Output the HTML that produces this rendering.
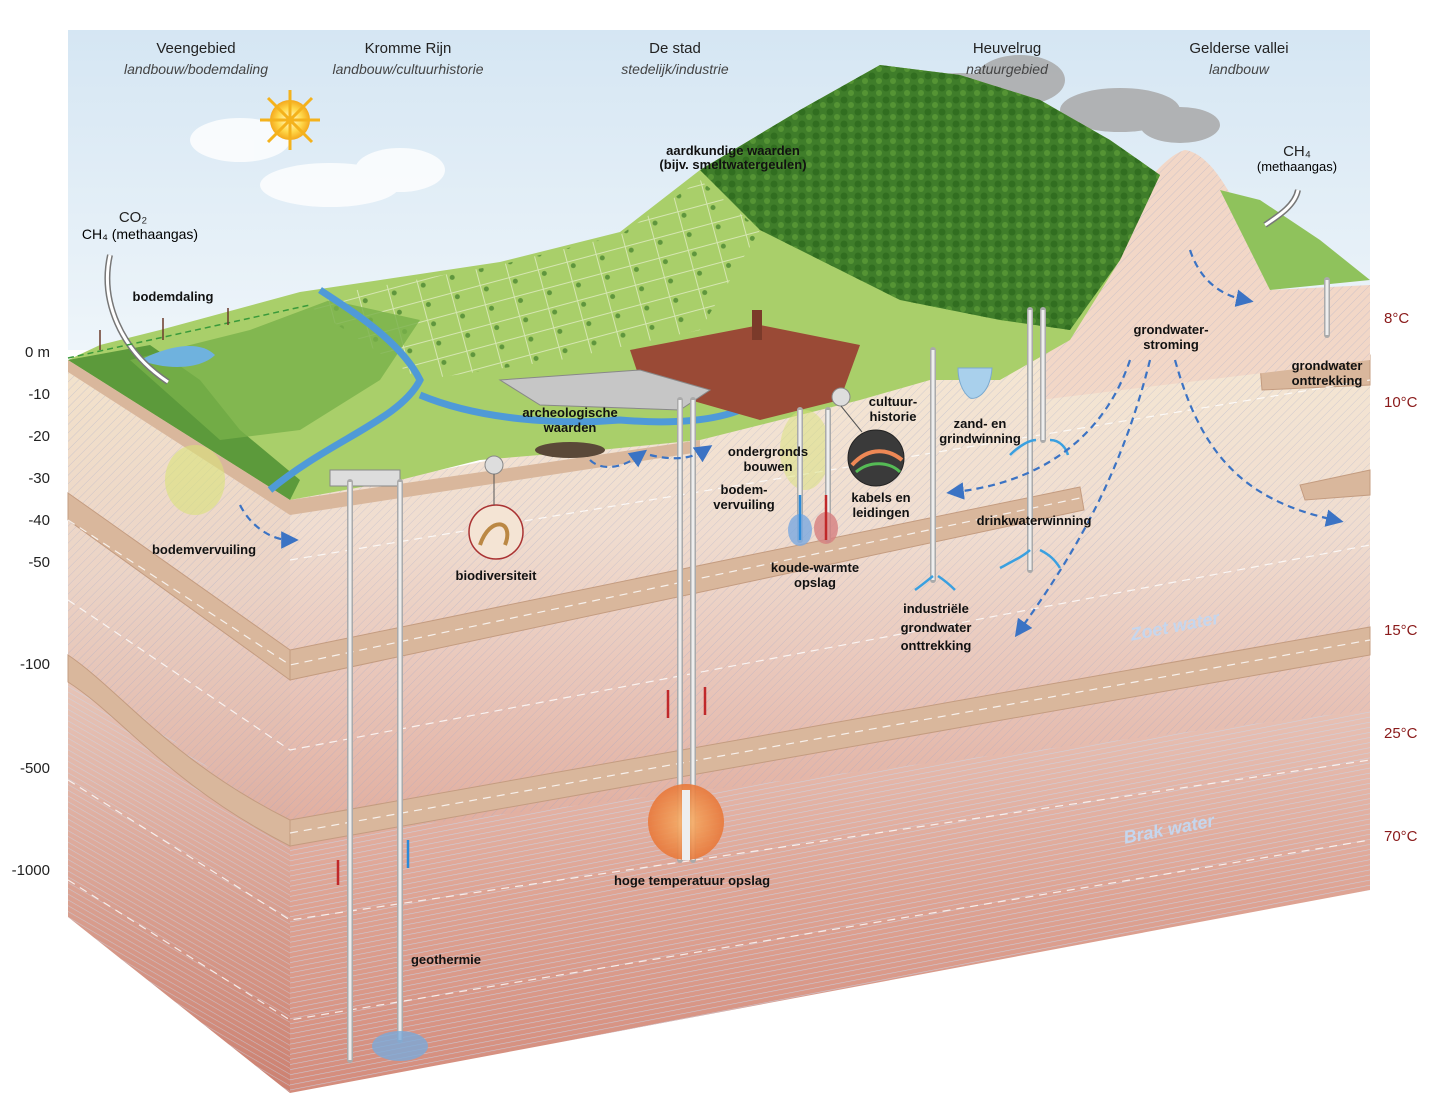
<!DOCTYPE html>
<html><head><meta charset="utf-8"><style>
body{margin:0;background:#fff}
svg{display:block}
text{font-family:"Liberation Sans",sans-serif}
.t{font-size:15px;fill:#222;text-anchor:middle}
.i{font-size:14px;font-style:italic;fill:#444;text-anchor:middle}
.b{font-size:13px;font-weight:bold;fill:#111;text-anchor:middle}
.d{font-size:15px;fill:#222;text-anchor:end}
.c{font-size:15px;fill:#8a1a1a}
</style></head><body>
<svg width="1450" height="1113" viewBox="0 0 1450 1113">
<defs>
<linearGradient id="sky" x1="0" y1="0" x2="0" y2="1"><stop offset="0" stop-color="#d5e6f3"/><stop offset="1" stop-color="#eef5fa"/></linearGradient>
<linearGradient id="earth" x1="0" y1="0" x2="0" y2="1">
<stop offset="0" stop-color="#f6ead4"/><stop offset="0.3" stop-color="#f0ddd0"/><stop offset="0.5" stop-color="#e8c4b8"/><stop offset="0.75" stop-color="#dea494"/><stop offset="1" stop-color="#d48c7c"/></linearGradient>
<linearGradient id="earthL" x1="0" y1="0" x2="0" y2="1">
<stop offset="0" stop-color="#f3e3cc"/><stop offset="0.3" stop-color="#ebd3c6"/><stop offset="0.55" stop-color="#e2b8ab"/><stop offset="0.8" stop-color="#d69888"/><stop offset="1" stop-color="#cc8070"/></linearGradient>
<pattern id="h" width="6" height="6" patternUnits="userSpaceOnUse" patternTransform="rotate(45)"><line x1="0" y1="0" x2="0" y2="6" stroke="#9aa4c8" stroke-width="0.8" opacity="0.5"/></pattern>
<pattern id="hz" width="8" height="5" patternUnits="userSpaceOnUse" patternTransform="rotate(-11)"><line x1="0" y1="0" x2="8" y2="0" stroke="#c8d8ec" stroke-width="1.2" opacity="0.75"/></pattern>
<pattern id="hzl" width="8" height="5" patternUnits="userSpaceOnUse" patternTransform="rotate(30)"><line x1="0" y1="0" x2="8" y2="0" stroke="#c8d8ec" stroke-width="1.2" opacity="0.6"/></pattern>
<pattern id="trees" width="14" height="12" patternUnits="userSpaceOnUse"><circle cx="4" cy="4" r="3.5" fill="#2e6a1e"/><circle cx="11" cy="9" r="3" fill="#5a9a36"/></pattern>
<pattern id="fields" width="30" height="20" patternUnits="userSpaceOnUse" patternTransform="rotate(-15)"><rect width="30" height="20" fill="none" stroke="#e8f0d0" stroke-width="1"/><circle cx="5" cy="5" r="2.5" fill="#3f7d2a"/></pattern>
<radialGradient id="ball"><stop offset="0" stop-color="#f7b26a"/><stop offset="1" stop-color="#e8783a"/></radialGradient>
<radialGradient id="sun"><stop offset="0" stop-color="#fffbe0"/><stop offset="0.6" stop-color="#ffd84a"/><stop offset="1" stop-color="#f4a81c"/></radialGradient>
<marker id="ab" markerWidth="8" markerHeight="8" refX="4" refY="4" orient="auto"><path d="M0,0 L8,4 L0,8z" fill="#3b73c4"/></marker>
</defs>
<rect x="68" y="30" width="1302" height="320" fill="url(#sky)"/>
<g fill="#fff" opacity="0.8">
<ellipse cx="240" cy="140" rx="50" ry="22"/><ellipse cx="330" cy="185" rx="70" ry="22"/><ellipse cx="400" cy="170" rx="45" ry="22"/>
</g>
<g fill="#a9a9a9" opacity="0.85"><ellipse cx="960" cy="95" rx="55" ry="22"/><ellipse cx="1020" cy="80" rx="45" ry="25"/><ellipse cx="1120" cy="110" rx="60" ry="22"/><ellipse cx="1180" cy="125" rx="40" ry="18"/></g>
<circle cx="290" cy="120" r="20" fill="url(#sun)"/>
<g stroke="#f4b21c" stroke-width="3"><line x1="290" y1="90" x2="290" y2="150"/><line x1="260" y1="120" x2="320" y2="120"/><line x1="268" y1="98" x2="312" y2="142"/><line x1="312" y1="98" x2="268" y2="142"/></g>

<!-- left face -->
<polygon points="68,360 290,500 290,1093 68,917" fill="url(#earthL)"/>
<polygon points="68,360 290,500 290,840 68,680" fill="url(#h)"/>
<polygon points="68,660 290,830 290,1093 68,917" fill="url(#hzl)"/>
<!-- front face -->
<polygon points="290,500 1370,285 1370,890 290,1093" fill="url(#earth)"/>
<polygon points="290,500 1370,285 1370,710 290,840" fill="url(#h)"/>
<polygon points="290,840 1370,710 1370,890 290,1093" fill="url(#hz)"/>
<!-- clay bands -->
<g fill="#d9b79c" stroke="#c49c80" stroke-width="1">
<polygon points="68,493 290,650 290,680 68,520"/>
<polygon points="290,650 1080,487 1084,510 290,680"/>
<path d="M68,655 C120,690 170,760 290,820 L290,846 C170,785 120,715 68,682 Z"/>
<polygon points="290,820 1370,627 1370,655 290,846"/>
<polygon points="1260,365 1370,355 1370,385 1262,390"/>
<polygon points="1300,485 1370,470 1370,495 1305,500"/>
</g>
<g stroke="#fff" stroke-dasharray="8 6" stroke-width="1.2" fill="none" opacity="0.8">
<path d="M68,520 L290,665 L1080,498"/><path d="M290,560 L1370,380"/><path d="M68,600 L290,750 L1370,545"/><path d="M290,833 L1370,640"/><path d="M68,780 L290,920 L1370,760"/><path d="M68,880 L290,1020 L1370,840"/>
</g>
<!-- pink hill cone -->
<path d="M1040,350 C1100,250 1150,160 1185,150 C1220,155 1250,230 1270,290 L1370,285 L1370,360 L1040,400z" fill="#f2d7c7"/>
<path d="M1040,350 C1100,250 1150,160 1185,150 C1220,155 1250,230 1270,290 L1370,285 L1370,360 L1040,400z" fill="url(#h)"/>
<!-- landscape top -->
<path d="M68,360 L100,345 L160,330 L300,292 L500,262 L620,232 L700,170 L800,110 L880,65 L960,75 L1040,100 L1110,140 L1160,175 L1120,260 L1070,340 L1000,380 L930,380 L860,400 L780,420 L700,440 L600,450 L480,460 L400,480 L290,500 Z" fill="#a9cf6a"/>
<path d="M300,300 L500,265 L620,235 L700,180 L760,230 L700,330 L560,360 L420,380 Z" fill="url(#fields)" opacity="0.7"/>
<path d="M700,170 L800,110 L880,65 L960,75 L1040,100 L1110,140 L1160,175 L1120,260 L1070,330 L1000,320 L900,300 L820,260 L760,230 Z" fill="#3f7d2a"/>
<path d="M700,170 L800,110 L880,65 L960,75 L1040,100 L1110,140 L1160,175 L1120,260 L1070,330 L1000,320 L900,300 L820,260 L760,230 Z" fill="url(#trees)" opacity="0.8"/>
<path d="M1270,290 L1220,190 L1260,200 L1320,240 L1370,280 Z" fill="#8fc25c"/>
<path d="M68,360 L290,500 L300,480 L240,430 L200,380 L150,345 Z" fill="#5c9a3b"/>
<path d="M130,360 L250,330 L330,300 L420,320 L380,380 L300,430 L220,440 Z" fill="#78b04a" opacity="0.8"/>
<path d="M140,360 C170,345 200,340 215,355 C200,370 165,370 140,360z" fill="#6fb2de"/>
<!-- soil slab under terrain -->
<path d="M68,360 L290,500 L700,440 L700,452 L290,515 L68,372 Z" fill="#d9b79c"/>
<!-- river -->
<path d="M270,490 C330,440 400,420 420,380 C400,340 350,310 320,290 M420,395 C480,420 560,425 620,420 C680,425 730,420 760,400" stroke="#4f9ad8" stroke-width="7" fill="none"/>
<!-- city -->
<path d="M630,350 L760,325 L860,345 L840,400 L760,420 L690,400 L640,380 Z" fill="#9a4a36"/>
<rect x="752" y="310" width="10" height="30" fill="#7b3a2a"/>
<path d="M500,380 L640,370 L710,390 L680,410 L540,405 Z" fill="#c6c6c6" stroke="#888"/>
<rect x="330" y="470" width="70" height="16" fill="#ddd" stroke="#888"/>
<ellipse cx="570" cy="450" rx="35" ry="8" fill="#5a4838"/>
<ellipse cx="195" cy="480" rx="30" ry="35" fill="#d8e27a" opacity="0.6"/>
<ellipse cx="805" cy="450" rx="25" ry="40" fill="#d8e27a" opacity="0.5"/>
<path d="M958,368 L992,368 C990,395 975,400 970,398 C962,392 958,380 958,368z" fill="#a9d0ec" stroke="#7aa9cf"/>
<!-- pipes -->
<g stroke="#aaa" stroke-width="6" stroke-linecap="round"><line x1="350" y1="482" x2="350" y2="1060"/><line x1="400" y1="482" x2="400" y2="1040"/><line x1="680" y1="400" x2="680" y2="860"/><line x1="693" y1="400" x2="693" y2="860"/><line x1="933" y1="350" x2="933" y2="580"/><line x1="1030" y1="310" x2="1030" y2="570"/><line x1="1043" y1="310" x2="1043" y2="440"/><line x1="1327" y1="280" x2="1327" y2="335"/><line x1="800" y1="410" x2="800" y2="540"/><line x1="828" y1="410" x2="828" y2="540"/></g>
<g stroke="#eee" stroke-width="3"><line x1="350" y1="482" x2="350" y2="1060"/><line x1="400" y1="482" x2="400" y2="1040"/><line x1="680" y1="400" x2="680" y2="860"/><line x1="693" y1="400" x2="693" y2="860"/><line x1="933" y1="350" x2="933" y2="580"/><line x1="1030" y1="310" x2="1030" y2="570"/><line x1="1043" y1="310" x2="1043" y2="440"/><line x1="1327" y1="280" x2="1327" y2="335"/><line x1="800" y1="410" x2="800" y2="540"/><line x1="828" y1="410" x2="828" y2="540"/></g>
<circle cx="686" cy="822" r="38" fill="url(#ball)" opacity="0.9"/>
<line x1="686" y1="790" x2="686" y2="860" stroke="#eee" stroke-width="8"/>
<ellipse cx="400" cy="1046" rx="28" ry="15" fill="#7ba9d8" opacity="0.8"/>
<ellipse cx="800" cy="530" rx="12" ry="16" fill="#7ba9e0" opacity="0.8"/>
<ellipse cx="826" cy="528" rx="12" ry="16" fill="#d68080" opacity="0.8"/>
<!-- blue water swirls -->
<g stroke="#3aa0e0" stroke-width="2.5" fill="none"><path d="M1010,455 C1020,445 1030,440 1036,440 M1050,440 C1060,440 1066,448 1068,455"/><path d="M1000,568 C1015,560 1025,555 1030,550 M1040,550 C1050,555 1055,560 1060,568"/><path d="M915,590 C922,585 928,580 933,576 M938,576 C944,580 950,585 955,590"/></g>
<!-- red/blue arrows -->
<g stroke-width="2.5"><line x1="338" y1="885" x2="338" y2="860" stroke="#c0282a"/><line x1="408" y1="840" x2="408" y2="868" stroke="#2a8ad8"/><line x1="668" y1="690" x2="668" y2="718" stroke="#c0282a"/><line x1="705" y1="715" x2="705" y2="687" stroke="#c0282a"/><line x1="800" y1="495" x2="800" y2="540" stroke="#2a8ad8"/><line x1="826" y1="540" x2="826" y2="495" stroke="#c0282a"/></g>
<!-- dashed flows -->
<g stroke="#3b73c4" stroke-width="2.2" stroke-dasharray="7 5" fill="none" marker-end="url(#ab)">
<path d="M1150,360 C1120,480 1070,560 1020,630"/><path d="M1130,360 C1110,420 1060,480 955,492"/><path d="M1175,360 C1200,450 1240,500 1335,520"/><path d="M1190,250 C1200,280 1220,295 1245,300"/><path d="M590,460 C600,470 620,470 640,455"/><path d="M650,455 C670,460 690,460 705,450"/><path d="M240,505 C250,525 270,540 290,540"/>
</g>
<path d="M168,382 C120,350 100,300 110,255" stroke="#777" stroke-width="6" fill="none"/><path d="M168,382 C120,350 100,300 110,255" stroke="#fff" stroke-width="3" fill="none"/>
<path d="M1265,225 C1280,215 1295,205 1298,190" stroke="#777" stroke-width="6" fill="none"/><path d="M1265,225 C1280,215 1295,205 1298,190" stroke="#fff" stroke-width="3" fill="none"/>
<line x1="68" y1="358" x2="310" y2="305" stroke="#3a9a3a" stroke-dasharray="6 4" stroke-width="1.5"/>
<g stroke="#6b3a2a" stroke-width="1.5"><line x1="100" y1="330" x2="100" y2="350"/><line x1="163" y1="318" x2="163" y2="340"/><line x1="228" y1="308" x2="228" y2="325"/></g>
<circle cx="496" cy="532" r="27" fill="#f4e4d4" stroke="#a33" stroke-width="1.5"/><path d="M480,545 C490,515 515,520 505,545" stroke="#b84" stroke-width="4" fill="none"/>
<circle cx="876" cy="458" r="28" fill="#3a3a3a" stroke="#222"/><path d="M852,465 C870,445 890,450 902,460" stroke="#e85" stroke-width="4" fill="none"/><path d="M856,472 C870,460 890,462 900,472" stroke="#5b5" stroke-width="3" fill="none"/>
<circle cx="494" cy="465" r="9" fill="#ddd" stroke="#888"/><circle cx="841" cy="397" r="9" fill="#ddd" stroke="#888"/>
<line x1="494" y1="474" x2="494" y2="505" stroke="#555"/><line x1="841" y1="406" x2="862" y2="432" stroke="#555"/>
<text class="t" x="196" y="53">Veengebied</text><text class="i" x="196" y="74">landbouw/bodemdaling</text>
<text class="t" x="408" y="53">Kromme Rijn</text><text class="i" x="408" y="74">landbouw/cultuurhistorie</text>
<text class="t" x="675" y="53">De stad</text><text class="i" x="675" y="74">stedelijk/industrie</text>
<text class="t" x="1007" y="53">Heuvelrug</text><text class="i" x="1007" y="74">natuurgebied</text>
<text class="t" x="1239" y="53">Gelderse vallei</text><text class="i" x="1239" y="74">landbouw</text>
<text class="d" x="50" y="357">0 m</text><text class="d" x="50" y="399">-10</text><text class="d" x="50" y="441">-20</text><text class="d" x="50" y="483">-30</text><text class="d" x="50" y="525">-40</text><text class="d" x="50" y="567">-50</text><text class="d" x="50" y="669">-100</text><text class="d" x="50" y="773">-500</text><text class="d" x="50" y="875">-1000</text>
<text class="c" x="1384" y="323">8°C</text><text class="c" x="1384" y="407">10°C</text><text class="c" x="1384" y="635">15°C</text><text class="c" x="1384" y="738">25°C</text><text class="c" x="1384" y="841">70°C</text>
<text class="t" x="133" y="222">CO₂</text><text x="140" y="239" style="font-size:14px;text-anchor:middle">CH₄ (methaangas)</text>
<text class="t" x="1297" y="156">CH₄</text><text x="1297" y="171" style="font-size:13px;text-anchor:middle">(methaangas)</text>
<text class="b" x="173" y="301">bodemdaling</text>
<text class="b" x="733" y="155">aardkundige waarden</text><text class="b" x="733" y="169">(bijv. smeltwatergeulen)</text>
<text class="b" x="570" y="417">archeologische</text><text class="b" x="570" y="432">waarden</text>
<text class="b" x="768" y="456">ondergronds</text><text class="b" x="768" y="471">bouwen</text>
<text class="b" x="744" y="494">bodem-</text><text class="b" x="744" y="509">vervuiling</text>
<text class="b" x="893" y="406">cultuur-</text><text class="b" x="893" y="421">historie</text>
<text class="b" x="881" y="502">kabels en</text><text class="b" x="881" y="517">leidingen</text>
<text class="b" x="980" y="428">zand- en</text><text class="b" x="980" y="443">grindwinning</text>
<text class="b" x="1171" y="334">grondwater-</text><text class="b" x="1171" y="349">stroming</text>
<text class="b" x="1327" y="370">grondwater</text><text class="b" x="1327" y="385">onttrekking</text>
<text class="b" x="1034" y="525">drinkwaterwinning</text>
<text class="b" x="204" y="554">bodemvervuiling</text>
<text class="b" x="496" y="580">biodiversiteit</text>
<text class="b" x="815" y="572">koude-warmte</text><text class="b" x="815" y="587">opslag</text>
<text class="b" x="936" y="613">industriële</text><text class="b" x="936" y="632">grondwater</text><text class="b" x="936" y="650">onttrekking</text>
<text class="b" x="692" y="885">hoge temperatuur opslag</text>
<text class="b" x="446" y="964">geothermie</text>
<text x="1176" y="632" transform="rotate(-11 1176 632)" style="font-size:18px;font-style:italic;font-weight:bold;fill:#c5d6ee;text-anchor:middle">Zoet water</text>
<text x="1170" y="835" transform="rotate(-11 1170 835)" style="font-size:18px;font-style:italic;font-weight:bold;fill:#c5d6ee;text-anchor:middle">Brak water</text>
</svg>
</body></html>
